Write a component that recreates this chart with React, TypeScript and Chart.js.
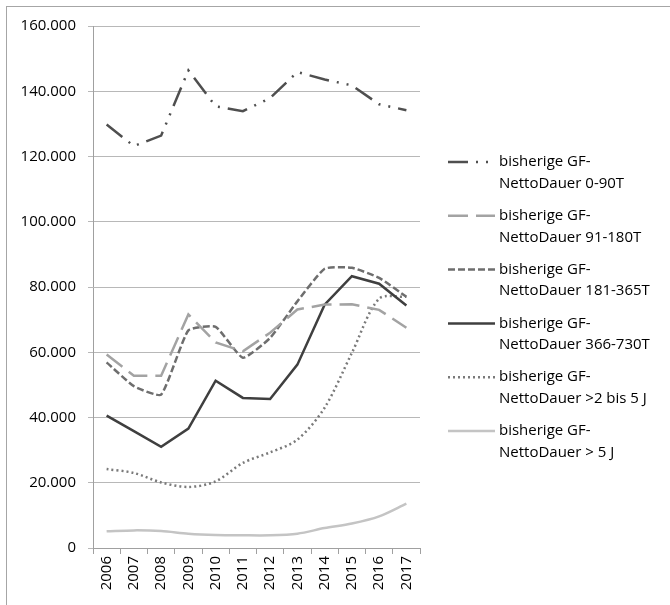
import React, { useEffect, useRef } from "react";
import { Chart, registerables } from "chart.js";

Chart.register(...registerables);

const years = ["2006", "2007", "2008", "2009", "2010", "2011", "2012", "2013", "2014", "2015", "2016", "2017"];

const dauer0_90 = [129800, 123200, 126400, 146400, 135400, 133900, 137900, 145900, 143600, 141800, 136000, 134200];
const dauer91_180 = [59300, 52800, 52800, 71600, 63000, 60300, 66000, 73100, 74600, 74700, 73000, 67500];
const dauer181_365 = [56900, 49600, 47000, 66700, 67800, 58300, 64400, 75600, 85600, 85900, 82800, 77000];
const dauer366_730 = [40600, 35800, 31000, 36600, 51300, 46000, 45700, 56200, 74600, 83300, 81000, 74300];
const dauer2bis5J = [24200, 23000, 20100, 18700, 20400, 26100, 29300, 33200, 43000, 59800, 76400, 77000];
const dauerUeber5J = [5100, 5400, 5200, 4400, 4000, 3900, 3900, 4400, 6100, 7500, 9700, 13600];

const seriesNames = [
  ["bisherige GF-", "NettoDauer 0-90T"],
  ["bisherige GF-", "NettoDauer 91-180T"],
  ["bisherige GF-", "NettoDauer 181-365T"],
  ["bisherige GF-", "NettoDauer 366-730T"],
  ["bisherige GF-", "NettoDauer >2 bis 5 J"],
  ["bisherige GF-", "NettoDauer > 5 J"],
];

const yMin = 0;
const yMax = 160000;
const yStep = 20000;

const FONT = "'Open Sans', 'Liberation Sans', sans-serif";

function fmtDE(v: number): string {
  const s = Math.round(v).toString();
  return s.replace(/\B(?=(\d{3})+(?!\d))/g, ".");
}

const sideLegend = {
  id: "sideLegend",
  afterDraw(chart: any) {
    const ctx = chart.ctx as CanvasRenderingContext2D;
    const names = chart.options.plugins.sideLegend.names as string[][];
    ctx.save();
    chart.data.datasets.forEach((ds: any, i: number) => {
      const y = 162 + i * 53.8;
      ctx.strokeStyle = ds.borderColor;
      ctx.lineWidth = ds.borderWidth;
      ctx.setLineDash(ds.borderDash || []);
      ctx.lineCap = "butt";
      ctx.beginPath();
      ctx.moveTo(448, y);
      ctx.lineTo(495, y);
      ctx.stroke();
      ctx.setLineDash([]);
      ctx.fillStyle = "#000";
      ctx.font = `15px ${FONT}`;
      ctx.textBaseline = "middle";
      ctx.textAlign = "left";
      names[i].forEach((t, j) => ctx.fillText(t, 499, y + j * 21.5));
    });
    ctx.restore();
  },
};

export default function App() {
  const ref = useRef<HTMLCanvasElement | null>(null);

  useEffect(() => {
    if (!ref.current) return;
    const mk = (data: number[], color: string, dash: number[], width: number, tension: number) => ({
      data,
      borderColor: color,
      backgroundColor: color,
      borderDash: dash,
      borderWidth: width,
      pointRadius: 0,
      tension,
      fill: false,
    });
    const chart = new Chart(ref.current, {
      type: "line",
      data: {
        labels: years,
        datasets: [
          { label: seriesNames[0].join(" "), ...mk(dauer0_90, "#4f4f4f", [20, 8, 2, 8, 2, 8], 2.5, 0) },
          { label: seriesNames[1].join(" "), ...mk(dauer91_180, "#a3a3a3", [20, 8], 2.5, 0) },
          { label: seriesNames[2].join(" "), ...mk(dauer181_365, "#6e6e6e", [7, 3], 2.5, 0.15) },
          { label: seriesNames[3].join(" "), ...mk(dauer366_730, "#3f3f3f", [], 2.5, 0) },
          { label: seriesNames[4].join(" "), ...mk(dauer2bis5J, "#7a7a7a", [2, 3], 2.5, 0.3) },
          { label: seriesNames[5].join(" "), ...mk(dauerUeber5J, "#c4c4c4", [], 2.5, 0.3) },
        ],
      },
      options: {
        animation: false,
        responsive: false,
        maintainAspectRatio: false,
        events: [],
        layout: { padding: { left: 0, top: 26, right: 250, bottom: 0 } },
        plugins: {
          legend: { display: false },
          tooltip: { enabled: false },
          title: { display: false },
          // @ts-ignore
          sideLegend: { names: seriesNames },
        },
        scales: {
          x: {
            offset: true,
            grid: { drawOnChartArea: false, offset: true, tickLength: 6, color: "#a0a0a0" },
            border: { color: "#a0a0a0" },
            ticks: { minRotation: 90, maxRotation: 90, font: { family: FONT, size: 15 }, color: "#000", padding: 2 },
            afterFit: (s: any) => {
              s.height = 57;
            },
          },
          y: {
            min: yMin,
            max: yMax,
            ticks: {
              stepSize: yStep,
              font: { family: FONT, size: 15 },
              color: "#000",
              padding: 12,
              callback: (v: any) => fmtDE(Number(v)),
            },
            grid: { color: "#b8b8b8", tickLength: 5 },
            border: { color: "#a0a0a0" },
            afterFit: (s: any) => {
              s.width = 93;
            },
          },
        },
      },
      plugins: [sideLegend],
    } as any);
    return () => chart.destroy();
  }, []);

  return (
    <>
      <div
        style={{
          position: "fixed",
          left: 6,
          top: 6,
          width: 700,
          height: 700,
          border: "1px solid #a6a6a6",
          boxSizing: "border-box",
        }}
      />
      <canvas
        ref={ref}
        width={670}
        height={605}
        style={{ position: "fixed", left: 0, top: 0, width: 670, height: 605 }}
      />
    </>
  );
}
